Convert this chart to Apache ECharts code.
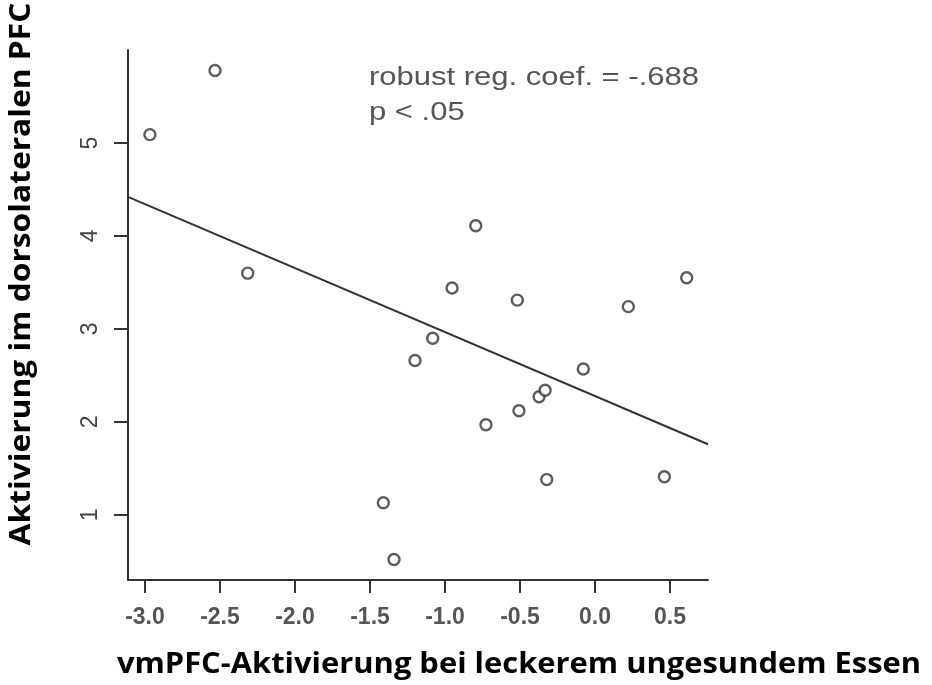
<!DOCTYPE html>
<html>
<head>
<meta charset="utf-8">
<script src="https://cdn.jsdelivr.net/npm/echarts@6/dist/echarts.min.js"></script>
<style>html,body{margin:0;padding:0;background:#fff}#c{width:932px;height:685px}</style>
</head>
<body>
<div id="c"></div>
<script>
// Data
const xVals = [-2.967, -2.533, -2.315, -1.411, -1.34, -1.2, -1.082, -0.953, -0.795, -0.727, -0.518, -0.507, -0.373, -0.333, -0.322, -0.078, 0.222, 0.462, 0.611];
const yVals = [5.09, 5.78, 3.60, 1.13, 0.52, 2.66, 2.90, 3.44, 4.11, 1.97, 3.31, 2.12, 2.27, 2.34, 1.38, 2.57, 3.24, 1.41, 3.55];
const lineX = [-3.113, 0.753];
const lineY = [4.42, 1.76];
const xTicks = [-3.0, -2.5, -2.0, -1.5, -1.0, -0.5, 0.0, 0.5];
const yTicks = [1, 2, 3, 4, 5];
const annotation = ['robust reg. coef. = -.688', 'p < .05'];
const xTitle = 'vmPFC-Aktivierung bei leckerem ungesundem Essen';
const yTitle = 'Aktivierung im dorsolateralen PFC';

const points = xVals.map((x, i) => [x, yVals[i]]);
const linePts = lineX.map((x, i) => [x, lineY[i]]);

const chart = echarts.init(document.getElementById('c'), null, {renderer: 'canvas'});
const axisCol = '#333';
chart.setOption({
  animation: false,
  backgroundColor: '#fff',
  grid: {left: 128, right: 224, top: 50, bottom: 105},
  xAxis: {
    type: 'value', min: -3.113, max: 0.753,
    axisLine: {show: true, onZero: false, lineStyle: {color: axisCol, width: 2}},
    axisTick: {show: true, length: 13, customValues: xTicks, lineStyle: {color: axisCol, width: 2}},
    axisLabel: {customValues: xTicks, margin: 26, color: '#555', fontSize: 23, fontWeight: 'bold',
      fontFamily: 'Liberation Sans, Arial, sans-serif', formatter: v => v.toFixed(1)},
    splitLine: {show: false}
  },
  yAxis: {
    type: 'value', min: 0.3, max: 6.0,
    axisLine: {show: true, onZero: false, lineStyle: {color: axisCol, width: 2}},
    axisTick: {show: true, length: 14, customValues: yTicks, lineStyle: {color: axisCol, width: 2}},
    axisLabel: {customValues: yTicks, margin: 26, rotate: 90, color: '#444', fontSize: 23,
      fontFamily: 'Liberation Sans, Arial, sans-serif', formatter: v => String(v)},
    splitLine: {show: false}
  },
  series: [
    {type: 'line', data: linePts, symbol: 'none', lineStyle: {color: '#333', width: 2}, z: 2},
    {type: 'scatter', data: points, symbol: 'circle', symbolSize: 11,
      itemStyle: {color: '#fff', borderColor: '#333', borderWidth: 2.4}, z: 3}
  ],
  graphic: [
    {type: 'text', x: 369, y: 61, scaleX: 1.24, style: {text: annotation.join('\n'), fill: '#555', fontSize: 25,
      lineHeight: 35, fontFamily: 'Liberation Sans, Arial, sans-serif', align: 'left', verticalAlign: 'top'}},
    {type: 'text', x: 519, y: 665, scaleX: 1.065, style: {text: xTitle, fill: '#000', fontSize: 29, fontWeight: 'bold',
      fontFamily: 'Open Sans, sans-serif', align: 'center', verticalAlign: 'middle'}},
    {type: 'text', x: 22, y: 274, rotation: Math.PI / 2, scaleX: 1.095, style: {text: yTitle, fill: '#000', fontSize: 29, fontWeight: 'bold',
      fontFamily: 'Open Sans, sans-serif', align: 'center', verticalAlign: 'middle'}}
  ]
});
</script>
</body>
</html>
